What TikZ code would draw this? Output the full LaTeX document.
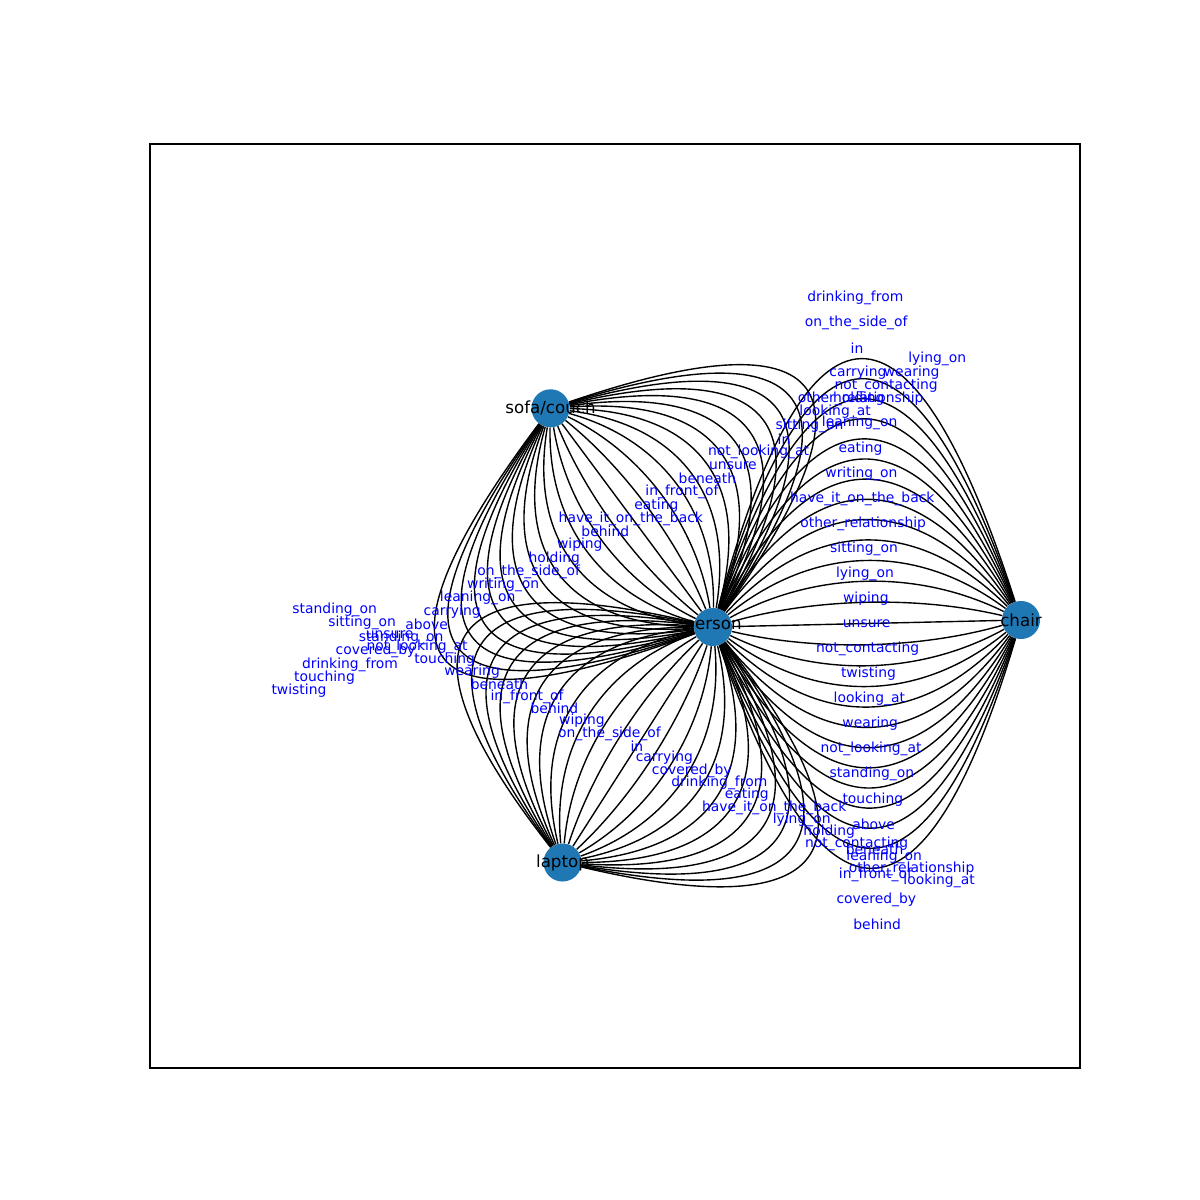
\documentclass[tikz,border=0pt]{standalone}
\usepackage{fontspec}
\setmainfont{DejaVu Sans}
\usepackage{tikz}
\usetikzlibrary{calc}
\definecolor{nodeblue}{HTML}{1F77B4}
\tikzset{obj/.style={circle, fill=nodeblue, minimum size=27.4pt, inner sep=0pt},
objname/.style={font=\fontsize{12}{14}\selectfont, inner sep=0pt},
rel/.style={text=blue, font=\fontsize{10}{12}\selectfont, inner sep=0pt, yshift=-1.4pt},
edge/.style={line width=1pt}}

\begin{document}
\begin{tikzpicture}[x=0.72pt, y=-0.72pt]
\useasboundingbox (0,0) rectangle (1200,1200);
\draw[line width=0.8pt] (150,144) rectangle (1080,1068);
%objects
\node[obj] (person) at (713,627) {};
\node[obj] (sofa) at (550.5,408.3) {};
\node[obj] (chair) at (1021,620) {};
\node[obj] (laptop) at (562.5,862.5) {};
\coordinate (pc) at ($(person)!0.5!(chair)$);
\coordinate (ps) at ($(sofa)!0.5!(person)$);
\coordinate (pl) at ($(laptop)!0.5!(person)$);
%person - chair
\foreach \k in {-12,...,13} {
\coordinate (q) at ($(pc)!{0.26*\k}!90:(chair)$);
\draw[edge] (person) .. controls ($(person)!2/3!(q)$) and ($(chair)!2/3!(q)$) .. (chair);
}
%sofa - person
\foreach \k in {-13,...,12} {
\coordinate (q) at ($(ps)!{0.26*\k}!90:(person)$);
\draw[edge] (sofa) .. controls ($(sofa)!2/3!(q)$) and ($(person)!2/3!(q)$) .. (person);
}
%laptop - person
\foreach \k in {-11,...,11} {
\coordinate (q) at ($(pl)!{0.26*\k}!90:(person)$);
\draw[edge] (laptop) .. controls ($(laptop)!2/3!(q)$) and ($(person)!2/3!(q)$) .. (person);
}
%relation labels
\foreach \lab [count=\i from 0] in {drinking\_from, on\_the\_side\_of, in, carrying, holding, leaning\_on, eating, writing\_on, have\_it\_on\_the\_back, other\_relationship, sitting\_on, lying\_on, wiping, unsure, not\_contacting, twisting, looking\_at, wearing, not\_looking\_at, standing\_on, touching, above, beneath, in\_front\_of, covered\_by, behind}
{\node[rel] (chairrel\i) at ({855.3+0.876*\i},{296+25.07*\i}) {\lab};}
\foreach \lab [count=\i from 0] in {lying\_on, wearing, not\_contacting, other\_relationship, looking\_at, sitting\_on, in, not\_looking\_at, unsure, beneath, in\_front\_of, eating, have\_it\_on\_the\_back, behind, wiping, holding, on\_the\_side\_of, writing\_on, leaning\_on, carrying, above, standing\_on, covered\_by, drinking\_from, touching, twisting}
{\node[rel] (sofarel\i) at ({937.2-25.53*\i},{357.3+13.27*\i}) {\lab};}
\foreach \lab [count=\i from 0] in {standing\_on, sitting\_on, unsure, not\_looking\_at, touching, wearing, beneath, in\_front\_of, behind, wiping, on\_the\_side\_of, in, carrying, covered\_by, drinking\_from, eating, have\_it\_on\_the\_back, lying\_on, holding, not\_contacting, leaning\_on, other\_relationship, looking\_at}
{\node[rel] (laptoprel\i) at ({334.7+27.47*\i},{608.3+12.32*\i}) {\lab};}
%object names
\node[objname] (persontxt) at (person) {person};
\node[objname] (sofatxt) at (sofa) {sofa/couch};
\node[objname] (chairtxt) at (chair) {chair};
\node[objname] (laptoptxt) at (laptop) {laptop};
\end{tikzpicture}
\end{document}
